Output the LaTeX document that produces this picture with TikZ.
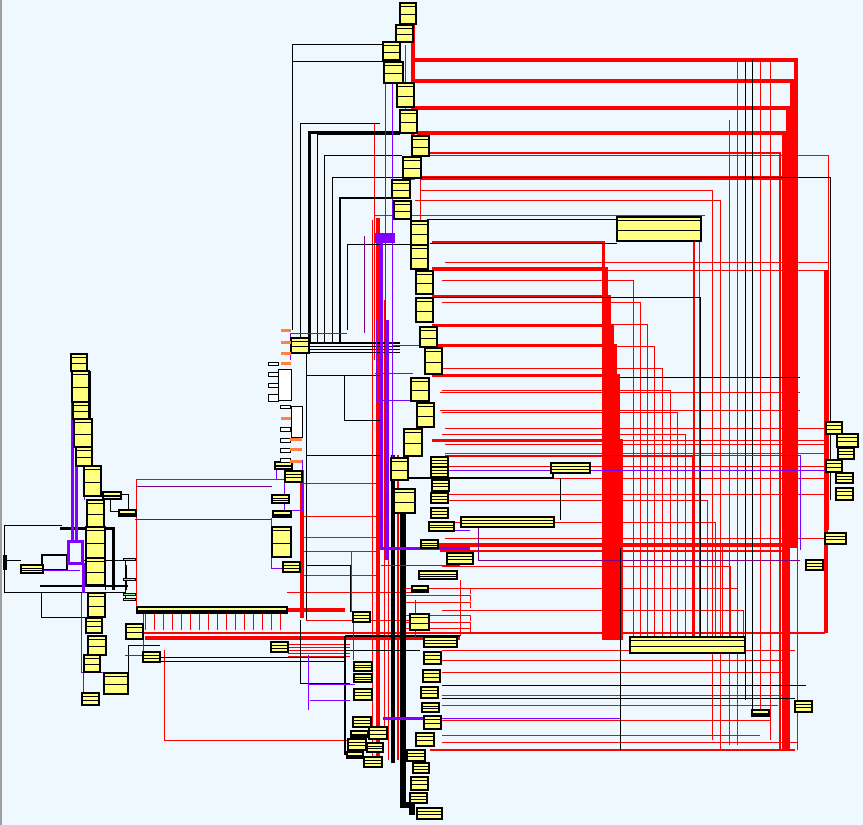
\documentclass[tikz,border=0pt]{standalone}
\usetikzlibrary{calc}
\definecolor{bgc}{RGB}{240,248,255}
\definecolor{clsy}{RGB}{255,255,128}
\definecolor{lnred}{RGB}{255,0,0}
\definecolor{lnpur}{RGB}{128,0,255}
\definecolor{lnpurb}{RGB}{128,0,128}
\definecolor{orng}{RGB}{255,128,64}
\definecolor{lgrn}{RGB}{128,255,128}
\definecolor{edgegray}{RGB}{160,160,160}
\pgfdeclarelayer{bg}\pgfsetlayers{bg,main}
\tikzset{
 cls/.style={draw=black, line width=1.3pt, fill=clsy, inner sep=0pt, outer sep=0pt, anchor=north west,
   path picture={\draw[line width=0.9pt] ([yshift=-3.5pt]path picture bounding box.north west) -- ([yshift=-3.5pt]path picture bounding box.north east);
   \draw[line width=0.9pt] ([yshift=-1pt]path picture bounding box.west) -- ([yshift=-1pt]path picture bounding box.east);}},
 rt/.style={draw=lnred, line width=0.9pt},
 rM/.style={draw=lnred, line width=2pt},
 rT/.style={draw=lnred, line width=3.6pt},
 rC/.style={draw=lnred, line width=3pt},
 bt/.style={draw=black, line width=0.8pt},
 bM/.style={draw=black, line width=1.6pt},
 bT/.style={draw=black, line width=3pt},
 purthin/.style={draw=lnpur, line width=1pt},
 purdark/.style={draw=lnpurb, line width=1pt},
 purthick/.style={draw=lnpur, line width=3pt},
 whitebox/.style={draw=black, line width=1pt, fill=white},
 orangebox/.style={draw=none, fill=orng},
}
\newcommand\cls[5]{\node[cls, minimum width=#4pt, minimum height=#5pt] (#1) at (#2,#3) {};}
\begin{document}
\begin{tikzpicture}[x=1pt,y=-1pt]
\useasboundingbox (0,0) rectangle (863,825);
% ---------- classes: middle column ----------
\cls{m1}{400}{3}{16}{21}
\cls{m2}{396}{25}{17}{17}
\cls{m3}{383}{42}{17}{18}
\cls{m4}{384}{62}{19}{21}
\cls{m5}{397}{83}{17}{24}
\cls{m6}{400}{110}{17}{23}
\cls{m7}{412}{136}{17}{20}
\cls{m8}{403}{157}{18}{21}
\cls{m9}{392}{180}{18}{18}
\cls{m10}{394}{201}{17}{18}
\cls{m11}{411}{221}{17}{24}
\cls{m12}{411}{245}{17}{24}
\cls{m13}{416}{271}{17}{23}
\cls{m14}{416}{298}{17}{24}
\cls{m15}{420}{327}{17}{20}
\cls{m16}{425}{348}{17}{26}
\cls{m17}{411}{378}{18}{23}
\cls{m18}{417}{403}{17}{24}
\cls{m19}{404}{429}{18}{27}
\cls{m20}{391}{458}{17}{22}
\cls{m21}{431}{457}{17}{10}
\cls{m22}{431}{467}{17}{10}
\cls{m23}{432}{480}{17}{11}
\cls{m24}{431}{493}{17}{10}
\cls{m25}{394}{489}{21}{24}
\cls{m26}{431}{508}{17}{10}
\cls{m27}{429}{522}{25}{9}
\cls{m28}{421}{540}{17}{8}
\cls{m29}{447}{553}{26}{11}
\cls{m30}{419}{571}{38}{8}
\cls{m31}{412}{586}{16}{6}
\cls{m32}{551}{463}{39}{10}
\cls{m33}{461}{517}{93}{10}
\cls{m34}{353}{612}{17}{10}
\cls{big1}{617}{217}{84}{24}
\cls{big2}{630}{637}{115}{16}
% ---------- classes: bottom cluster ----------
\cls{b2}{410}{614}{19}{16}
\cls{b3}{424}{637}{33}{10}
\cls{b4}{424}{652}{17}{12}
\cls{b5}{354}{662}{18}{9}
\cls{b6}{354}{674}{18}{8}
\cls{b7}{423}{670}{17}{12}
\cls{b8}{421}{687}{17}{11}
\cls{b9}{354}{689}{18}{11}
\cls{b10}{422}{703}{17}{9}
\cls{b11}{353}{717}{18}{10}
\cls{b12}{424}{716}{17}{13}
\cls{b13}{351}{731}{17}{6}
\cls{b14}{369}{727}{18}{12}
\cls{b15}{416}{733}{18}{13}
\cls{b16}{348}{739}{18}{11}
\cls{b17}{367}{743}{16}{9}
\cls{b18}{347}{752}{16}{6}
\cls{b19}{364}{757}{18}{10}
\cls{b20}{407}{750}{18}{11}
\cls{b21}{413}{763}{16}{10}
\cls{b22}{411}{777}{17}{13}
\cls{b23}{410}{793}{17}{10}
\cls{b24}{417}{808}{25}{11}
% ---------- classes: left cluster ----------
\cls{l1}{71}{354}{16}{17}
\cls{l2}{72}{371}{17}{31}
\cls{l3}{73}{402}{16}{17}
\cls{l4}{74}{419}{18}{28}
\cls{l5}{76}{447}{16}{19}
\cls{l6}{84}{466}{17}{30}
\cls{l7}{103}{492}{18}{7}
\cls{l8}{119}{510}{17}{6}
\cls{l9}{87}{500}{17}{27}
\cls{l10}{86}{527}{19}{31}
\cls{l11}{86}{558}{19}{27}
\cls{l12}{21}{565}{22}{8}
\cls{l13}{88}{593}{17}{24}
\cls{l14}{86}{618}{16}{15}
\cls{l15}{88}{636}{18}{19}
\cls{l16}{84}{655}{16}{17}
\cls{l17}{104}{673}{24}{21}
\cls{l18}{82}{693}{17}{12}
\cls{l19}{126}{624}{17}{15}
\cls{l20}{143}{652}{17}{10}
\cls{long1}{137}{607}{150}{6}
% ---------- classes: mid-left ----------
\cls{p1}{291}{338}{18}{15}
\cls{p2}{275}{462}{17}{7}
\cls{p3}{285}{471}{17}{11}
\cls{p4}{272}{495}{17}{8}
\cls{p5}{273}{511}{18}{6}
\cls{p6}{272}{527}{19}{30}
\cls{p7}{283}{562}{17}{10}
\cls{p8}{271}{642}{17}{10}
% ---------- classes: right ----------
\cls{r1}{826}{422}{16}{12}
\cls{r2}{837}{434}{21}{13}
\cls{r3}{838}{448}{16}{11}
\cls{r4}{826}{460}{16}{12}
\cls{r5}{836}{473}{17}{10}
\cls{r6}{836}{488}{17}{12}
\cls{r7}{825}{533}{21}{11}
\cls{r8}{806}{560}{17}{10}
\cls{r9}{795}{701}{17}{11}
\cls{r10}{752}{710}{17}{6}
% ---------- white and orange small boxes ----------
\draw[whitebox] (278,369) rectangle (291,400);
\draw[whitebox] (291,406) rectangle (302,437);
\foreach \y/\h in {362/3,372/4,383/4,394/7} {\draw[whitebox] (268,\y) rectangle ++(10,\h);}
\foreach \y/\h in {405/3,427/4,438/4,448/4,458/4} {\draw[whitebox] (280,\y) rectangle ++(10,\h);}
\foreach \y in {329,341,352,362,417} {\fill[orangebox] (281,\y) rectangle ++(10,2.5);}
\foreach \y in {438,448,460} {\fill[orangebox] (290,\y) rectangle ++(12,2.5);}
\foreach \y in {558,578,593,598} {\draw[fill=lgrn, line width=0.8pt] (123,\y) rectangle ++(12,2.5);}

\begin{pgfonlayer}{bg}
\fill[bgc] (0,0) rectangle (863,825);
\draw[edgegray, line width=1.6pt] (0.8,0) -- (0.8,825);
% ===== red: top bundle to right =====
\draw[rT] (412,60) -- (796,60) -- (796,548);
\draw[rT] (413,81) -- (792,81) -- (792,548);
\draw[rT] (415,108) -- (788,108) -- (788,750);
\draw[rT] (417,133) -- (784,133) -- (784,750);
\draw[rM] (430,153) -- (780,153) -- (780,750);
\draw[rT] (420,178) -- (795,178);
\draw[rt] (430,155) -- (828,155) -- (828,530);
\draw[rt] (415,200) -- (720,200) -- (720,750);
\draw[rt] (375,215) -- (705,215);
\draw[rt] (420,190) -- (712,190) -- (712,740);
\draw[rt] (737,60) -- (737,745);
\draw[rt] (760,62) -- (760,710);
\draw[rt] (770,62) -- (770,740);
\draw[rt] (729,120) -- (729,745);
\draw[rT] (413,25) -- (413,180);
\draw[rt] (405,45) -- (405,110);
\draw[rt] (420,160) -- (420,230);
% ===== red: thick cluster to big2 =====
\foreach \y/\x in {242/603,268/606,296/609,325/612,345/615,375/618,440/621} {
  \draw[rC] (432,\y) -- (\x,\y) -- (\x,640);
}
\draw[rM] (694,241) -- (694,637);
\draw[rt] (699,241) -- (699,637);
\foreach \x [count=\i] in {633,640,647,654,662,670,677,685,692,700,707,715,722,730,737,743} {
  \pgfmathsetmacro\yy{258+22*\i}
  \draw[rt] (442,\yy) -- (\x,\yy) -- (\x,637);
}
\draw[rT] (420,545) -- (797,545);
\draw[rM] (440,551) -- (790,551);
\draw[rM] (140,633) -- (825,633);
\draw[rT] (145,638) -- (460,638);
\draw[rt] (430,270) -- (826,270);
\draw[rT] (826,270) -- (826,633);
\foreach \y in {428,440,444,453,466,478,494,538} {\draw[rt] (445,\y) -- (826,\y);}
\draw[rt] (445,262) -- (828,262);
\draw[rt] (440,392) -- (800,392);
\draw[rt] (440,410) -- (800,410);
\draw[rt] (797,330) -- (797,750);
% ===== red: bottom =====
\foreach \y/\x in {650/795,660/790,672/786,695/782,705/778,720/770,735/760,742/797} {\draw[rt] (442,\y) -- (\x,\y);}
\draw[rM] (430,750) -- (795,750);
\draw[rt] (164,650) -- (164,740) -- (347,740);
\draw[rT] (378,218) -- (378,760);
\draw[rt] (384,300) -- (384,740);
\draw[rt] (372,220) -- (372,760);
\draw[rt] (374,124) -- (374,360);
\draw[rM] (398,455) -- (398,760);
\draw[rt] (388,560) -- (388,760);
\foreach \y in {588,595,602,615,622,628} {\draw[rt] (400,\y) -- (470,\y) -- (470,\y+6);}
\draw[rt] (460,580) -- (460,636);
% ===== red: mid-left =====
\draw[rt] (136,479) -- (300,479);
\draw[rt] (136,479) -- (136,607);
\draw[rT] (302,470) -- (302,618);
\foreach \y in {483,516,537,551,575} {\draw[rt] (302,\y) -- (380,\y);}
\draw[rt] (351,551) -- (351,612);
\draw[rT] (287,610) -- (345,610);
\foreach \y in {644,647,650,653,656} {\draw[rt] (288,\y) -- (350,\y);}
\foreach \x in {145,154,...,285} {\draw[rt] (\x,613) -- (\x,630);}
\draw[rt] (287,592) -- (420,592);
\draw[rt] (306,620) -- (420,620);
% ===== black: top-left L lines =====
\draw[bt] (383,44) -- (292,44) -- (292,330);
\draw[bt] (383,61) -- (292,61);
\draw[bt] (380,123) -- (300,123) -- (300,343);
\draw[bT] (400,132) -- (309,132) -- (309,343);
\draw[bt] (400,134) -- (317,134) -- (317,343);
\draw[bt] (402,155) -- (324,155) -- (324,343);
\draw[bt] (402,177) -- (332,177) -- (332,343);
\draw[bM] (400,198) -- (340,198) -- (340,343);
\draw[bt] (410,244) -- (347,244) -- (347,330);
\draw[bM] (306,343) -- (400,343);
\foreach \y in {346,349,352} {\draw[bt] (306,\y) -- (400,\y);}
\draw[bt] (306,343) -- (306,620);
\draw[bt] (306,375) -- (380,375);
\draw[bt] (344,375) -- (344,420) -- (380,420);
\draw[bt] (306,455) -- (380,455);
\draw[bt] (306,565) -- (350,565) -- (350,612);
\draw[bt] (300,620) -- (300,683) -- (350,683);
% ===== black: right area =====
\draw[bt] (430,243) -- (617,243);
\draw[bt] (427,219) -- (617,219);
\draw[bt] (433,297) -- (700,297) -- (700,637);
\draw[bt] (620,377) -- (800,377);
\draw[bt] (745,60) -- (745,700);
\draw[bt] (752,60) -- (752,710);
\draw[bt] (332,177) -- (830,177) -- (830,500);
\draw[bM] (408,478) -- (553,478) -- (553,470);
\draw[bt] (620,548) -- (620,750);
\draw[bt] (442,685) -- (806,685);
\draw[bt] (442,698) -- (795,698);
\draw[bt] (560,478) -- (560,520);
% ===== black: bottom column =====
\draw[black, line width=4pt] (393,455) -- (393,763);
\draw[black, line width=6pt] (403,500) -- (403,805) -- (412,805) -- (412,815);
\draw[bM] (345,636) -- (460,636);
\draw[bM] (345,636) -- (345,755);
\draw[bt] (345,650) -- (420,650);
\draw[bt] (160,657) -- (345,657);
\draw[bt] (160,661) -- (345,661);
% ===== black: left cluster =====
\draw[bt] (62,525) -- (4,525) -- (4,592) -- (125,592);
\draw[bT] (60,528) -- (113,528) -- (113,590);
\draw[bM] (40,586) -- (128,586);
\draw[bM] (42,555) rectangle (67,570);
\fill (3,555) rectangle (7,570);
\draw[bt] (4,560) -- (21,560);
\draw[bt] (43,569) -- (66,569);
\draw[bt] (41,592) -- (41,617) -- (88,617);
\draw[bt] (105,527) -- (105,590);
\draw[bt] (126,565) -- (126,590);
\draw[bt] (110,494) rectangle (128,511);
\draw[bt] (90,466) -- (90,371);
\draw[bt] (84,560) -- (125,560) -- (125,600);
\draw[bt] (128,683) -- (128,645) -- (160,645);
% ===== purple: left =====
\draw[purthick] (72,371) -- (72,543);
\draw[purthick] (76,420) -- (76,543);
\draw[lnpur, line width=3pt] (68,541) rectangle (82,563);
\draw[purthick] (83,563) -- (83,593);
\draw[purthin] (81,593) -- (81,672) -- (105,672);
\draw[purthin] (83,672) -- (83,700);
\draw[purthin] (43,570) -- (80,570);
\draw[purthin] (84,466) -- (84,500);
\draw[purthin] (143,613) -- (143,652);
\draw[purthin] (125,655) -- (143,655);
\draw[purdark] (135,519) -- (272,519);
\draw[purdark] (136,486) -- (272,486);
% ===== purple: mid-left =====
\draw[purthin] (276,469) -- (276,479) -- (285,479);
\draw[purthin] (284,480) -- (284,510) -- (302,510) -- (302,460);
\draw[purthin] (271,518) -- (271,568) -- (283,568);
\draw[purthin] (290,333) -- (347,333);
\draw[purthin] (290,333) -- (290,360);
\draw[purdark] (364,236) -- (364,333);
\draw[purthin] (353,622) -- (353,660);
\draw[purthin] (308,655) -- (308,710);
\draw[purthin] (308,684) -- (355,684);
\draw[purthin] (310,700) -- (350,700);
% ===== purple: middle column =====
\draw[purthick] (381,235) -- (381,550);
\fill[lnpur] (375,233) rectangle (395,243);
\draw[purthin] (385,60) -- (385,560);
\draw[purthin] (392,60) -- (392,460);
\draw[purthick] (387,320) -- (387,560);
\draw[purthin] (376,320) -- (376,400) -- (410,400);
\draw[purthin] (393,345) -- (420,345);
\draw[purthin] (375,373) -- (413,373);
\draw[purthick] (381,548) -- (470,548);
\draw[purthin] (381,565) -- (460,565);
\draw[purthick] (383,718) -- (440,718);
\draw[purthin] (440,718) -- (620,718);
\draw[purthin] (415,600) -- (415,640);
\draw[purthin] (440,530) -- (470,530);
% ===== purple: right =====
\draw[purthin] (445,455) -- (800,455) -- (800,550);
\draw[purthin] (445,470) -- (836,470);
\draw[purdark] (478,517) -- (478,560) -- (800,560);
\end{pgfonlayer}
\end{tikzpicture}
\end{document}
